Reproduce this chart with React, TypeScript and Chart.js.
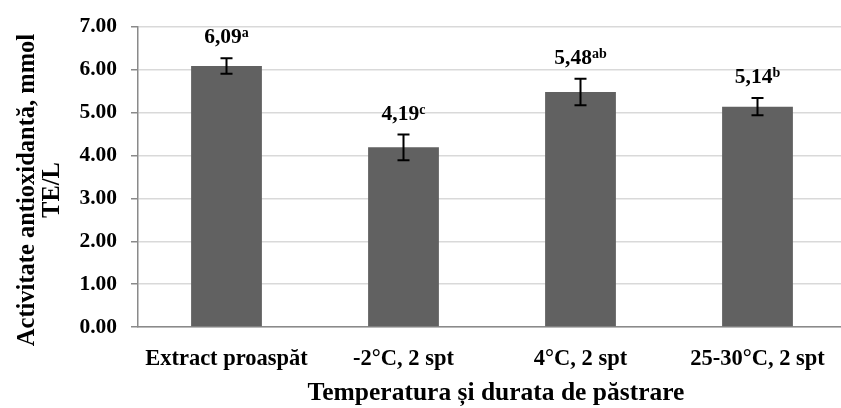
import React, { useEffect, useRef } from "react";
import { Chart, registerables } from "chart.js";

Chart.register(...registerables);

const categories = ["Extract proaspăt", "-2°C, 2 spt", "4°C, 2 spt", "25-30°C, 2 spt"];
const values = [6.09, 4.19, 5.48, 5.14];
const errors = [0.18, 0.3, 0.31, 0.2];
const letters = ["a", "c", "ab", "b"];
const yTitleLines = ["Activitate antioxidantă, mmol", "TE/L"];
const xTitle = "Temperatura și durata de păstrare";

const FONT = '"Liberation Serif", "Times New Roman", serif';

const errorBarsAndLabels = {
  id: "errorBarsAndLabels",
  afterDatasetsDraw(chart: any) {
    const { ctx, scales } = chart;
    const y = scales.y;
    const meta = chart.getDatasetMeta(0);
    ctx.save();
    meta.data.forEach((bar: any, i: number) => {
      const x = bar.x;
      const top = y.getPixelForValue(values[i] + errors[i]);
      const bottom = y.getPixelForValue(values[i] - errors[i]);
      ctx.strokeStyle = "#000";
      ctx.lineWidth = 2;
      ctx.beginPath();
      ctx.moveTo(x, top);
      ctx.lineTo(x, bottom);
      ctx.moveTo(x - 6, top);
      ctx.lineTo(x + 6, top);
      ctx.moveTo(x - 6, bottom);
      ctx.lineTo(x + 6, bottom);
      ctx.stroke();

      // value label with significance letter as superscript
      const main = values[i].toFixed(2).replace(".", ",");
      const sup = letters[i];
      const mainFont = `bold 21.5px ${FONT}`;
      const supFont = `bold 14px ${FONT}`;
      ctx.font = mainFont;
      const wMain = ctx.measureText(main).width;
      ctx.font = supFont;
      const wSup = ctx.measureText(sup).width;
      const start = x - (wMain + wSup) / 2;
      const base = top - 15;
      ctx.fillStyle = "#000";
      ctx.textAlign = "left";
      ctx.textBaseline = "alphabetic";
      ctx.font = mainFont;
      ctx.fillText(main, start, base);
      ctx.font = supFont;
      ctx.fillText(sup, start + wMain, base - 6);
    });
    ctx.restore();
  },
};

const axisTitles = {
  id: "axisTitles",
  afterDraw(chart: any) {
    const { ctx, chartArea } = chart;
    ctx.save();
    ctx.fillStyle = "#000";
    ctx.textAlign = "center";
    ctx.textBaseline = "middle";
    ctx.font = `bold 24.5px ${FONT}`;
    ctx.translate(28, 190);
    ctx.rotate(-Math.PI / 2);
    ctx.fillText(yTitleLines[0], 0, 0);
    ctx.fillText(yTitleLines[1], 0, 25);
    ctx.restore();

    ctx.save();
    ctx.fillStyle = "#000";
    ctx.textAlign = "center";
    ctx.textBaseline = "alphabetic";
    ctx.font = `bold 25.5px ${FONT}`;
    ctx.fillText(xTitle, (chartArea.left + chartArea.right) / 2 + 4, 400);
    ctx.restore();
  },
};

export default function App() {
  const ref = useRef<HTMLCanvasElement>(null);

  useEffect(() => {
    if (!ref.current) return;
    const chart = new Chart(ref.current, {
      type: "bar",
      data: {
        labels: categories,
        datasets: [
          {
            data: values,
            backgroundColor: "#616161",
            borderWidth: 0,
            barPercentage: 0.4,
            categoryPercentage: 1,
          },
        ],
      },
      options: {
        responsive: false,
        animation: false,
        layout: { padding: { top: 24, left: 0, right: 0, bottom: 0 } },
        plugins: {
          legend: { display: false },
          tooltip: { enabled: false },
        },
        scales: {
          x: {
            grid: { display: false, drawTicks: false },
            border: { display: true, color: "#8a8a8a", width: 1.5 },
            ticks: {
              color: "#000",
              padding: 19,
              font: { family: FONT, size: 22.5, weight: "bold" },
              maxRotation: 0,
              autoSkip: false,
            },
            afterFit(scale: any) {
              scale.height = 81;
            },
          },
          y: {
            min: 0,
            max: 7,
            grid: {
              color: "#d9d9d9",
              lineWidth: 1.5,
              tickColor: "#8a8a8a",
              tickLength: 7,
            },
            border: { display: true, color: "#8a8a8a", width: 1.5 },
            ticks: {
              stepSize: 1,
              color: "#000",
              padding: 14,
              font: { family: FONT, size: 21.5, weight: "bold" },
              callback: (v: any) => Number(v).toFixed(2),
            },
            afterFit(scale: any) {
              scale.width = 138;
            },
          },
        },
      },
      plugins: [errorBarsAndLabels, axisTitles],
    });
    return () => chart.destroy();
  }, []);

  return (
    <div style={{ position: "fixed", left: 0, top: 0, width: 846, height: 408, background: "#fff" }}>
      <canvas ref={ref} width={846} height={408} />
    </div>
  );
}
